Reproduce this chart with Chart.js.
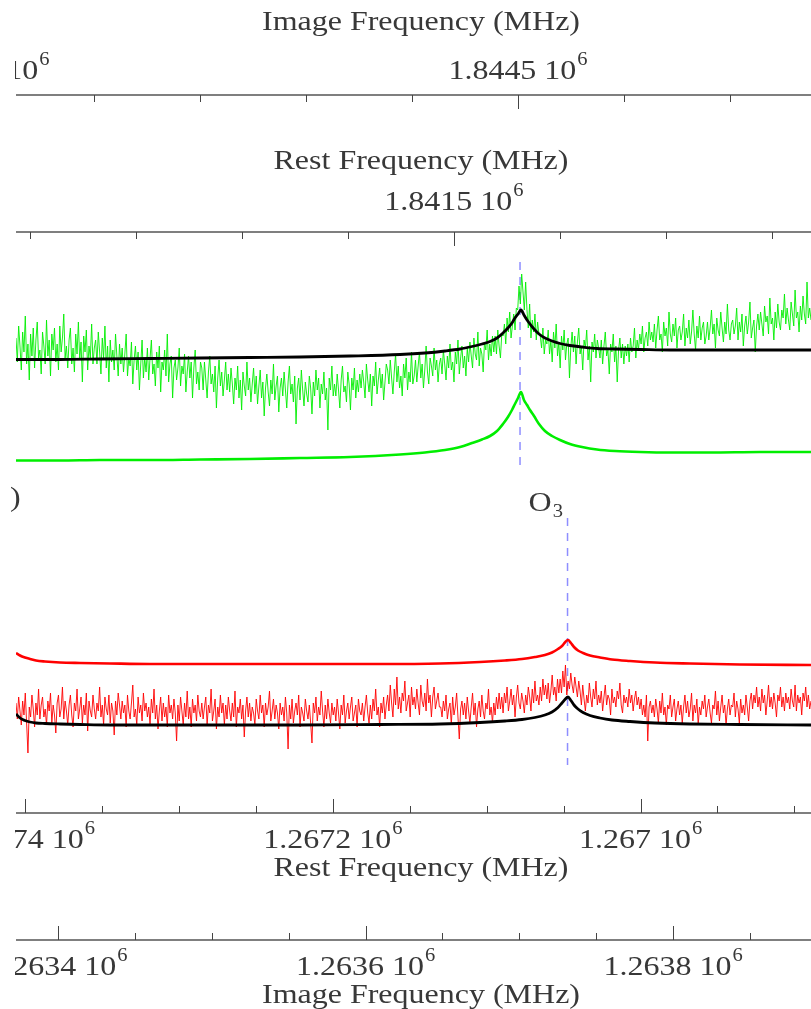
<!DOCTYPE html>
<html>
<head>
<meta charset="utf-8">
<script src="https://cdn.jsdelivr.net/npm/chart.js@4.4.0/dist/chart.umd.min.js"></script>
<style>
  html, body { margin: 0; padding: 0; background: #fff; }
  canvas { display: block; }
</style>
</head>
<body>
<canvas id="spec" width="811" height="1009"></canvas>
<script>
// ---- data (frequencies in MHz, intensities in arbitrary units) ----

// upper panel: green spectrum on a rest frequency channel grid
const greenStart = 1841913.2;
const greenStep = -1.2521;
const greenSpec = [
  61, 49, 67, 57, 45, 64, 54, 72, 48, 58, 40, 63, 52, 66, 46, 60, 69, 51, 55, 43,
  64, 57, 48, 70, 52, 60, 42, 63, 55, 66, 49, 58, 45, 67, 54, 61, 73, 51, 57, 46,
  60, 66, 48, 56, 44, 63, 53, 69, 50, 59, 39, 62, 54, 65, 45, 57, 51, 68, 48, 56,
  60, 48, 64, 54, 43, 61, 51, 67, 46, 57, 39, 60, 49, 55, 45, 63, 52, 42, 58, 48,
  56, 44, 53, 63, 42, 51, 47, 59, 38, 50, 57, 45, 54, 35, 48, 60, 41, 51, 44, 56,
  40, 51, 60, 43, 48, 37, 54, 46, 57, 34, 49, 45, 55, 42, 63, 39, 48, 52, 31, 46,
  50, 40, 46, 56, 37, 47, 43, 53, 34, 44, 52, 41, 49, 31, 46, 55, 38, 44, 35, 49,
  46, 35, 49, 40, 31, 44, 52, 38, 43, 34, 47, 26, 41, 50, 37, 44, 32, 40, 49, 35,
  43, 34, 46, 38, 28, 41, 35, 47, 31, 40, 25, 44, 37, 32, 49, 35, 41, 29, 38, 46,
  33, 42, 28, 37, 45, 31, 39, 22, 36, 43, 34, 27, 40, 33, 48, 30, 37, 42, 24, 36,
  41, 32, 44, 35, 26, 39, 47, 33, 38, 29, 42, 18, 36, 41, 30, 45, 35, 27, 39, 33,
  29, 42, 36, 23, 39, 32, 45, 35, 41, 26, 38, 33, 44, 30, 36, 15, 41, 35, 47, 32,
  38, 32, 43, 35, 26, 40, 47, 34, 37, 29, 44, 38, 25, 41, 35, 46, 31, 40, 34, 43,
  36, 45, 39, 31, 48, 40, 34, 43, 27, 42, 37, 49, 33, 40, 46, 36, 43, 30, 39, 48,
  45, 38, 50, 41, 33, 44, 53, 39, 47, 36, 42, 32, 48, 41, 51, 35, 44, 39, 54, 38,
  42, 50, 39, 47, 54, 41, 48, 36, 45, 57, 44, 38, 51, 47, 42, 56, 45, 50, 39, 48,
  51, 43, 55, 48, 40, 52, 46, 58, 45, 49, 39, 54, 48, 60, 43, 51, 57, 46, 52, 42,
  56, 49, 59, 52, 46, 61, 53, 50, 64, 47, 56, 53, 44, 59, 55, 65, 50, 58, 52, 62,
  54, 62, 53, 65, 57, 51, 63, 62, 68, 58, 71, 64, 74, 61, 67, 73, 65, 76, 75, 87,
  78, 93, 84, 75, 89, 75, 66, 78, 61, 70, 64, 73, 60, 69, 63, 62, 56, 66, 53, 60,
  58, 65, 53, 60, 49, 64, 56, 68, 52, 59, 46, 62, 55, 65, 50, 58, 61, 41, 56, 64,
  54, 62, 48, 59, 66, 53, 57, 45, 60, 56, 65, 50, 57, 39, 59, 54, 63, 51, 60, 56,
  51, 60, 48, 57, 64, 52, 55, 43, 58, 54, 63, 49, 57, 39, 55, 61, 51, 58, 48, 57,
  52, 58, 49, 61, 54, 57, 66, 51, 60, 55, 63, 58, 67, 54, 61, 64, 57, 69, 60, 64,
  59, 68, 56, 65, 72, 60, 63, 54, 69, 62, 66, 57, 74, 63, 59, 68, 62, 71, 56, 65,
  67, 60, 64, 73, 57, 66, 61, 70, 58, 64, 75, 63, 55, 67, 61, 72, 60, 66, 69, 58,
  62, 69, 60, 66, 75, 63, 68, 56, 71, 65, 62, 74, 66, 59, 69, 63, 78, 65, 60, 68,
  70, 63, 67, 76, 60, 69, 64, 73, 57, 67, 72, 63, 69, 79, 61, 66, 70, 54, 67, 73,
  65, 74, 68, 62, 77, 69, 72, 63, 81, 68, 71, 60, 74, 66, 78, 69, 65, 75, 71, 83,
  68, 76, 70, 65, 79, 73, 67, 85, 71, 74, 64, 77, 70, 82, 73, 68, 89, 71, 76, 70
];
const greenCurveFreq = [1841913.2, 1841871.7, 1841834.0, 1841786.8, 1841739.6, 1841692.5, 1841645.3,
  1841598.1, 1841550.9, 1841527.4, 1841508.5, 1841494.3, 1841483.0, 1841473.6, 1841466.0, 1841459.4,
  1841453.8, 1841449.1, 1841445.3, 1841442.5, 1841439.6, 1841436.8, 1841434.0, 1841431.1, 1841428.3,
  1841424.5, 1841419.8, 1841414.2, 1841407.5, 1841400.0, 1841390.6, 1841379.2, 1841365.1, 1841348.1,
  1841324.5, 1841296.2, 1841258.5, 1841211.3, 1841163.2];
const greenModel = [-0.25, -0.25, 0, 0, 0.25, 0.5, 1, 1.5, 2.75, 3.75, 5, 6.5, 8.5, 10.25, 12, 14.5, 18,
  21.5, 25, 28, 31, 34, 30, 27.5, 25, 22, 18, 14.5, 12, 10, 8, 6.5, 5.25, 4.5, 4, 3.75, 3.75, 4, 4];
const greenFit = [50.25, 50.25, 50.5, 50.75, 51, 51.25, 51.5, 52, 52.75, 53.5, 54.5, 55.5, 56.75, 58,
  59.25, 61, 63.5, 66, 68.5, 71, 73, 75, 72.5, 70, 68, 65.5, 63, 61, 59.5, 58.25, 57.25, 56.5, 55.75,
  55.5, 55.25, 55, 55, 55, 55];
const lineTopFreq = 1841437.7;
const lineTopSpan = [99, -6];

// lower panel: red spectrum (O3) on a rest frequency channel grid
const redStart = 1267406.1;
const redStep = -0.86294;
const redSpec = [
  11, 3, 14, 7, 0, 12, 5, 16, 1, -14, 9, 4, 15, 8, -1, 11, 5, 18, 3, 10,
  14, 4, 8, 0, 12, 7, 16, 1, 10, 5, -4, 11, 15, 4, 8, 19, 3, 12, 7, 0,
  10, 15, 5, -1, 11, 7, 18, 3, 8, 14, 1, 10, 5, 16, -3, 12, 7, 4, 15, 8,
  3, 11, 7, 19, 4, 10, 0, 14, 8, 5, 15, 1, 11, 7, -5, 12, 5, 16, 10, 3,
  12, 6, 10, -1, 15, 7, 3, 11, 20, 4, 8, 0, 14, 6, 10, 2, 16, 7, 11, 4,
  9, 0, 13, 6, 18, 3, 10, -2, 7, 14, 2, 11, 4, 9, -1, 15, 6, 10, 3, 13,
  6, -8, 10, 2, 14, 7, 0, 11, 4, 17, 3, 9, -1, 13, 6, 10, 2, 15, 7, 4,
  11, 3, 9, 14, 0, 10, 6, 18, 2, 7, 13, -2, 9, 4, 15, 6, 11, 0, 10, 3,
  14, 7, 2, 11, 4, 17, -1, 9, 6, 13, 3, 10, -6, 7, 14, 4, 11, 2, 9, 6,
  0, 13, 7, 3, 15, 6, 10, -1, 11, 5, 9, 17, 2, 7, 13, 3, 10, 6, -2, 11,
  5, 9, 2, 14, 6, -12, 10, 3, 13, 1, 7, 11, 5, 15, -1, 9, 6, 2, 13, 7,
  3, 10, 1, -9, 11, 6, 14, 2, 9, 5, 17, 7, -1, 10, 3, 13, 6, 1, 11, 5,
  9, 2, 13, 6, -2, 10, 5, 15, 1, 7, 11, 3, 9, 14, 2, 6, 10, -1, 13, 7,
  5, 11, 2, 9, 15, 6, 1, 10, 3, 13, 7, 18, 5, 9, -1, 11, 6, 14, 3, 10,
  15, 7, 20, 11, 4, 18, 10, 24, 8, 14, 6, 16, 12, 22, 7, 11, 15, 4, 19, 10,
  14, 8, 18, 11, 5, 20, 12, 9, 16, 7, 23, 11, 15, 4, 14, 19, 8, 12, 16, 9,
  9, 4, 12, 7, 15, 3, 8, 11, 0, 14, 5, 9, 16, 4, -7, 8, 12, 5, 11, 3,
  14, 7, 1, 9, 16, 5, 11, -1, 8, 12, 4, 15, 7, 3, 11, 8, 18, 5, 9, 1,
  11, 5, 14, 8, 16, 8, 14, 6, 16, 11, 19, 7, 12, 18, 10, 15, 4, 14, 20, 11,
  8, 16, 12, 6, 15, 10, 19, 14, 7, 18, 11, 22, 12, 15, 10, 19, 12, 23, 15, 20,
  13, 21, 11, 17, 25, 15, 19, 12, 23, 16, 23, 16, 27, 19, 30, 15, 22, 18, 26, 20,
  16, 24, 19, 14, 22, 17, 10, 20, 13, 7, 15, 11, 21, 14, 9, 18, 13, 22, 10, 15,
  11, 17, 7, 14, 20, 10, 15, 13, 5, 18, 11, 14, 9, 17, 13, 21, 10, 6, 15, 11,
  14, 9, 18, 11, 15, 7, 13, 17, 10, 14, 8, 13, 5, 10, 4, 15, -8, 9, 12, 6,
  10, 4, 13, 8, 1, 12, 6, 16, 5, 9, 0, 10, 8, 15, 4, 9, 13, 2, 8, 12,
  5, 10, 1, 9, 15, 6, 12, 4, 8, 16, 2, 10, 6, 13, 0, 9, 5, 12, 8, 15,
  4, 9, 13, 6, 1, 10, 8, 17, 5, 12, 2, 9, 15, 6, 10, 0, 8, 13, 5, 10,
  9, 16, 4, 12, 8, 1, 13, 6, 10, 5, 15, 9, 2, 12, 16, 8, 15, 11, 19, 9,
  14, 7, 18, 11, 15, 5, 12, 20, 9, 14, 8, 16, 11, 4, 15, 12, 19, 9, 14, 7,
  16, 11, 14, 8, 18, 12, 9, 20, 7, 15, 11, 14, 5, 16, 12, 19, 9, 15, 8, 12
];
const redCurveFreq = [1267406.1, 1267403.5, 1267400.3, 1267397.0, 1267393.1, 1267387.3, 1267377.5,
  1267364.5, 1267345.0, 1267319.0, 1267273.5, 1267221.5, 1267169.4, 1267130.4, 1267104.4, 1267088.2,
  1267077.1, 1267068.7, 1267062.2, 1267057.6, 1267053.7, 1267051.1, 1267049.2, 1267047.2, 1267045.3,
  1267043.3, 1267040.7, 1267037.4, 1267032.9, 1267026.4, 1267018.6, 1267006.9, 1266990.6, 1266967.9,
  1266935.4, 1266889.2];
const redModel = [36, 34.75, 33.75, 33, 32.25, 31.75, 31.25, 31, 30.75, 30.5, 30.5, 30.5, 30.5, 30.75,
  31.5, 32.25, 33, 34, 35, 36.25, 38, 39.5, 41.25, 42.5, 41, 39, 37.25, 36, 34.75, 33.75, 32.75, 32,
  31.25, 30.75, 30.25, 30];
const redFit = [5.5, 3.5, 2.25, 1.5, 1, 0.75, 0.5, 0.25, 0, 0, 0, 0, 0.25, 0.5, 1.25, 2, 2.75, 3.75, 5,
  6.5, 8.75, 11, 12.75, 14, 12.25, 10, 8, 6.25, 4.75, 3.5, 2.5, 1.75, 1, 0.5, 0.25, 0];
const lineBotFreq = 1267047.5;
const lineBotSpan = [103.5, -20];
const lineBotName = 'O';
const lineBotSub = '3';

// axis ranges and labelled ticks (MHz)
const restTopRange = [1841163.2, 1841913.2];
const imageTopRange = [1844026.4, 1844776.4];
const restBotRange = [1266889.2, 1267406.1];
const imageBotRange = [1263372.7, 1263889.6];
const imageTopTicks = [1844000, 1844500];
const imageTopLabels = ['1.844', '1.8445'];
const restTopTicks = [1841500];
const restTopLabels = ['1.8415'];
const restBotTicks = [1267400, 1267200, 1267000];
const restBotLabels = ['1.2674', '1.2672', '1.267'];
const imageBotTicks = [1263400, 1263600, 1263800];
const imageBotLabels = ['1.2634', '1.2636', '1.2638'];

// ---- helpers ----
const FONT = '"Liberation Serif", "DejaVu Serif", serif';
const TEXT_COLOR = '#383838';
let stretch = 1;

function channels(start, step, vals) {
    return vals.map((v, i) => ({ x: start + i * step, y: v }));
}
function pairs(xs, ys) {
    return xs.map((x, i) => ({ x: x, y: ys[i] }));
}

function drawStr(ctx, str, x, y, size, align) {
    ctx.save();
    ctx.font = `${size}px ${FONT}`;
    const w = ctx.measureText(str).width * stretch;
    const left = align === 'center' ? x - w / 2 : (align === 'right' ? x - w : x);
    ctx.translate(left, y);
    ctx.scale(stretch, 1);
    ctx.textAlign = 'left';
    ctx.textBaseline = 'alphabetic';
    ctx.fillStyle = TEXT_COLOR;
    ctx.fillText(str, 0, 0);
    ctx.restore();
    return w;
}

function textWidth(ctx, str, size) {
    ctx.save();
    ctx.font = `${size}px ${FONT}`;
    const w = ctx.measureText(str).width * stretch;
    ctx.restore();
    return w;
}

// "1.8445 10^6" style label, centred on cx
function drawPow(ctx, mant, cx, y) {
    const main = mant + ' 10';
    const w1 = textWidth(ctx, main, 28);
    const w2 = textWidth(ctx, '6', 18);
    const left = cx - (w1 + w2 + 1) / 2;
    drawStr(ctx, main, left, y, 28, 'left');
    drawStr(ctx, '6', left + w1 + 1, y - 14, 18, 'left');
}

// where the four frequency axes go
const axesLayout = [
    { id: 'xImgTop', y: 95, dir: 1, minor: 100, major: 500, ticks: imageTopTicks, labels: imageTopLabels,
      labelY: 79, title: 'Image Frequency (MHz)', titleY: 30 },
    { id: 'xRestTop', y: 232, dir: 1, minor: 100, major: 500, ticks: restTopTicks, labels: restTopLabels,
      labelY: 210, title: 'Rest Frequency (MHz)', titleY: 169 },
    { id: 'xRestBot', y: 813, dir: -1, minor: 50, major: 200, ticks: restBotTicks, labels: restBotLabels,
      labelY: 848, title: 'Rest Frequency (MHz)', titleY: 876 },
    { id: 'xImgBot', y: 940, dir: -1, minor: 50, major: 200, ticks: imageBotTicks, labels: imageBotLabels,
      labelY: 975, title: 'Image Frequency (MHz)', titleY: 1003 },
];

const axesPlugin = {
    id: 'freqAxes',
    afterDraw(chart) {
        const ctx = chart.ctx;
        const area = chart.chartArea;
        ctx.save();
        ctx.font = `28px ${FONT}`;
        stretch = 318 / ctx.measureText('Image Frequency (MHz)').width;
        ctx.restore();

        axesLayout.forEach(ax => {
            const scale = chart.scales[ax.id];
            ctx.save();
            ctx.strokeStyle = '#555';
            ctx.lineWidth = 1.6;
            ctx.beginPath();
            ctx.moveTo(area.left, ax.y);
            ctx.lineTo(area.right, ax.y);
            ctx.stroke();

            ctx.lineWidth = 1;
            ctx.strokeStyle = '#444';
            const k0 = Math.ceil(scale.min / ax.minor);
            const k1 = Math.floor(scale.max / ax.minor);
            for (let k = k0; k <= k1; k++) {
                const v = k * ax.minor;
                const px = Math.round(scale.getPixelForValue(v)) + 0.5;
                const len = v % ax.major === 0 ? 14 : 7;
                ctx.beginPath();
                ctx.moveTo(px, ax.y);
                ctx.lineTo(px, ax.y + ax.dir * len);
                ctx.stroke();
            }

            // tick labels are cut at the left edge of the plot, as in the original crop
            ctx.beginPath();
            ctx.rect(area.left - 1, 0, area.right - area.left + 1, chart.height);
            ctx.clip();
            ax.ticks.forEach((v, i) => {
                drawPow(ctx, ax.labels[i], scale.getPixelForValue(v), ax.labelY);
            });
            ctx.restore();

            drawStr(ctx, ax.title, 421, ax.titleY, 28, 'center');
        });

        // line label of the lower panel
        const lx = chart.scales.xRestBot.getPixelForValue(lineBotFreq) - 39;
        const wO = drawStr(ctx, lineBotName, lx, 511, 28, 'left');
        drawStr(ctx, lineBotSub, lx + wO + 1, 517, 18, 'left');
        // clipped label remnant at the left edge
        drawStr(ctx, ')', 10, 506, 28, 'left');
    }
};

const GREEN = 'rgb(0,238,0)';
const RED = 'rgb(255,0,0)';
const DASH = 'rgba(130,130,255,0.9)';
const smooth = { cubicInterpolationMode: 'monotone' };

const ctx = document.getElementById('spec').getContext('2d');
new Chart(ctx, {
    type: 'line',
    data: {
        datasets: [
            Object.assign({ data: pairs(greenCurveFreq, greenFit), xAxisID: 'xRestTop', yAxisID: 'yTop',
              borderColor: '#000', borderWidth: 2.8, order: 1 }, smooth),
            { data: channels(greenStart, greenStep, greenSpec), xAxisID: 'xRestTop', yAxisID: 'yTop',
              borderColor: GREEN, borderWidth: 0.9, order: 2 },
            Object.assign({ data: pairs(greenCurveFreq, greenModel), xAxisID: 'xRestTop', yAxisID: 'yTop',
              borderColor: GREEN, borderWidth: 2.6, order: 3 }, smooth),
            { data: pairs([lineTopFreq, lineTopFreq], lineTopSpan), xAxisID: 'xRestTop', yAxisID: 'yTop',
              borderColor: DASH, borderWidth: 1.5, borderDash: [8, 7], order: 9 },
            Object.assign({ data: pairs(redCurveFreq, redFit), xAxisID: 'xRestBot', yAxisID: 'yBot',
              borderColor: '#000', borderWidth: 2.8, order: 1 }, smooth),
            { data: channels(redStart, redStep, redSpec), xAxisID: 'xRestBot', yAxisID: 'yBot',
              borderColor: RED, borderWidth: 0.9, order: 2 },
            Object.assign({ data: pairs(redCurveFreq, redModel), xAxisID: 'xRestBot', yAxisID: 'yBot',
              borderColor: RED, borderWidth: 2.6, order: 3 }, smooth),
            { data: pairs([lineBotFreq, lineBotFreq], lineBotSpan), xAxisID: 'xRestBot', yAxisID: 'yBot',
              borderColor: DASH, borderWidth: 1.5, borderDash: [8, 7], order: 9 },
        ]
    },
    options: {
        responsive: false,
        animation: false,
        layout: { padding: { left: 16, right: 0, top: 0, bottom: 0 } },
        elements: { point: { radius: 0 }, line: { tension: 0, fill: false } },
        plugins: { legend: { display: false }, tooltip: { enabled: false } },
        scales: {
            xRestTop: { axis: 'x', type: 'linear', display: false, reverse: true,
                        min: restTopRange[0], max: restTopRange[1] },
            xImgTop: { axis: 'x', type: 'linear', display: false,
                       min: imageTopRange[0], max: imageTopRange[1] },
            xRestBot: { axis: 'x', type: 'linear', display: false, reverse: true,
                        min: restBotRange[0], max: restBotRange[1] },
            xImgBot: { axis: 'x', type: 'linear', display: false,
                       min: imageBotRange[0], max: imageBotRange[1] },
            yTop: { axis: 'y', type: 'linear', display: false, min: -274.5, max: 230 },
            yBot: { axis: 'y', type: 'linear', display: false, min: -142, max: 362.5 },
        }
    },
    plugins: [axesPlugin]
});
</script>
</body>
</html>
